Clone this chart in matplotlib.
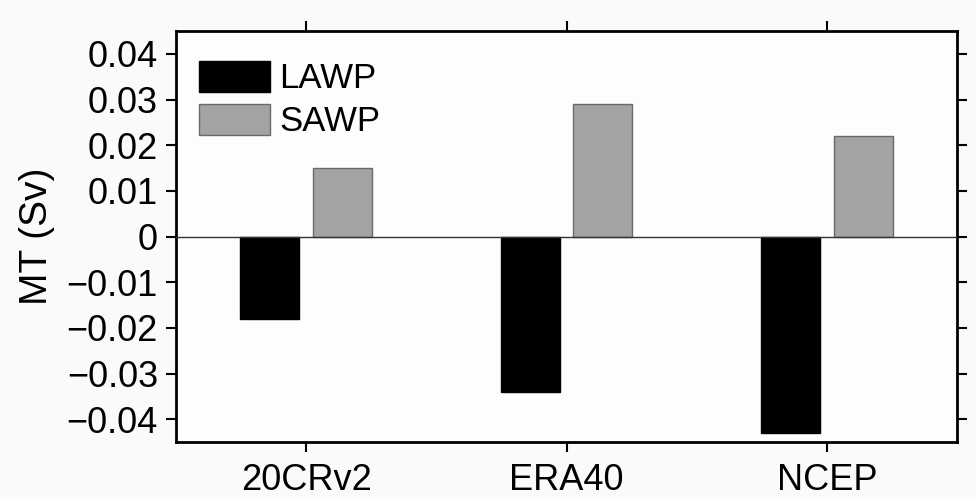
import numpy as np
import matplotlib.pyplot as plt

plt.rcParams['font.family'] = ['Liberation Sans', 'DejaVu Sans']

categories = ['20CRv2', 'ERA40', 'NCEP']
lawp = [-0.018, -0.034, -0.043]
sawp = [0.015, 0.029, 0.022]

x = np.arange(1, len(categories) + 1)
w = 0.227

fig = plt.figure(figsize=(9.76, 4.97), dpi=100, facecolor='#fafafa')
ax = fig.add_axes([176/976, 1 - 442/497, 781/976, 411/497])
ax.set_facecolor('#fdfdfd')

ax.bar(x - 0.14, lawp, w, color='black', edgecolor='black', lw=1, label='LAWP', zorder=2)
ax.bar(x + 0.14, sawp, w, color='#a3a3a6', edgecolor='#6a6a6a', lw=1, label='SAWP', zorder=2)
ax.axhline(0, color='#333333', lw=1, zorder=3)

ax.set_xlim(0.5, 3.5)
ax.set_ylim(-0.045, 0.045)
ax.set_xticks(x)
ax.set_xticklabels(categories)
ax.set_yticks(np.arange(-0.04, 0.041, 0.01))
ax.set_yticklabels(['\u22120.04', '\u22120.03', '\u22120.02', '\u22120.01', '0',
                    '0.01', '0.02', '0.03', '0.04'])
ax.tick_params(direction='out', top=True, right=True, length=7, width=1.5,
               labelsize=26, pad=6)
ax.tick_params(axis='x', pad=8)
for s in ax.spines.values():
    s.set_linewidth(2)
ax.set_ylabel('MT (Sv)', fontsize=28, labelpad=8)

ax.legend(loc='upper left', bbox_to_anchor=(-0.008, 1.0), frameon=False,
          fontsize=25, handlelength=2.05, handleheight=1.0, handletextpad=0.25,
          labelspacing=0.25, borderaxespad=0.5, borderpad=0.35)

plt.savefig('out.png', dpi=100, facecolor=fig.get_facecolor())
